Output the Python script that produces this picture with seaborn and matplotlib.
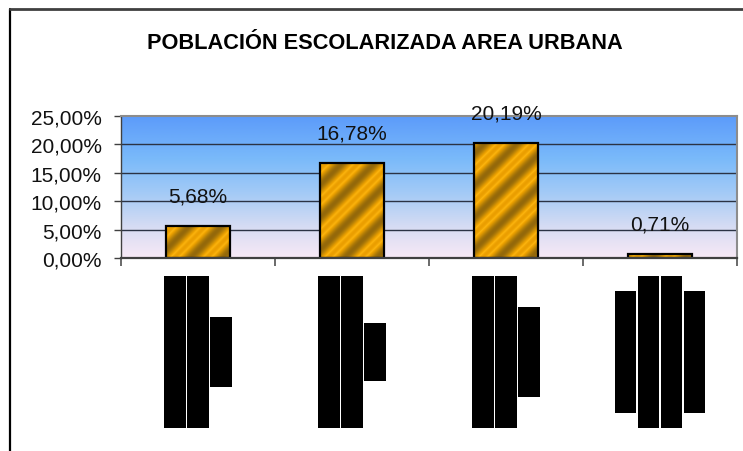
import numpy as np
import pandas as pd
import matplotlib
matplotlib.use("Agg")
import matplotlib.pyplot as plt
import seaborn as sns
from matplotlib.colors import LinearSegmentedColormap
from matplotlib.lines import Line2D
from matplotlib.ticker import FuncFormatter

# ---- data ----
categories = ["Transición", "Primaria", "Secundaria", "Media"]
values = [0.0568, 0.1678, 0.2019, 0.0071]
value_labels = ["5,68%", "16,78%", "20,19%", "0,71%"]
category_lines = [
    ["Transición 5 a", "6 años de edad", "urbana"],
    ["Nivel primaria", "de 7 a 11 años", "zonas"],
    ["Secundaria 12-", "15 años urbana", "cabecera"],
    ["Nivel media", "16 a 17 años y", "más en la zona", "área urbana"],
]
title = "POBLACIÓN ESCOLARIZADA AREA URBANA"
y_ticks = [0.0, 0.05, 0.10, 0.15, 0.20, 0.25]

df = pd.DataFrame({"cat": categories, "val": values})

sns.set_theme(style="white")
plt.rcParams["font.family"] = ["Liberation Sans", "DejaVu Sans"]

W, H = 743, 452
fig = plt.figure(figsize=(W / 100, H / 100), dpi=100)
fig.patch.set_facecolor("white")
ax = fig.add_axes([121 / W, 1 - 259 / H, (737 - 121) / W, (259 - 117) / H])
ax.patch.set_facecolor("none")

# background gradient
bg = LinearSegmentedColormap.from_list(
    "bg",
    [(0.0, (248 / 255, 233 / 255, 246 / 255)),
     (0.22, (214 / 255, 220 / 255, 243 / 255)),
     (0.45, (165 / 255, 203 / 255, 246 / 255)),
     (0.7, (122 / 255, 186 / 255, 250 / 255)),
     (1.0, (92 / 255, 155 / 255, 250 / 255))])
grad = np.linspace(0, 1, 256).reshape(-1, 1)
ax.imshow(grad, extent=(0, 1, 0, 1), transform=ax.transAxes, origin="lower",
          aspect="auto", cmap=bg, zorder=0, interpolation="bilinear")

for v in y_ticks[1:-1]:
    ax.axhline(v, color="#2b3344", lw=1.0, zorder=1)

sns.barplot(data=df, x="cat", y="val", color="#E8A000", edgecolor="black",
            linewidth=1.6, width=0.41, ax=ax, zorder=3)

ax.set_xlim(-0.5, 3.5)
ax.set_ylim(0, 0.25)
fig.canvas.draw()

# golden diagonal stripe fill
gold = LinearSegmentedColormap.from_list(
    "gold",
    [(0.0, (0.58, 0.41, 0.04)), (0.35, (0.76, 0.53, 0.02)),
     (0.7, (0.94, 0.64, 0.0)), (0.85, (0.99, 0.71, 0.06)), (1.0, (0.92, 0.62, 0.0))])
for p in list(ax.patches):
    bb = p.get_window_extent()
    w = max(int(round(bb.width)), 2)
    h = max(int(round(bb.height)), 2)
    xx, yy = np.meshgrid(np.arange(w), np.arange(h))
    period = 32.0
    t = 0.5 + 0.5 * np.sin(2 * np.pi * (xx - yy) / period)
    x0 = p.get_x()
    im = ax.imshow(t, extent=(x0, x0 + p.get_width(), p.get_y(), p.get_y() + p.get_height()),
                   origin="lower", aspect="auto", cmap=gold, zorder=3.5,
                   interpolation="bilinear", vmin=0, vmax=1)
    im.set_clip_path(p)
    p.set_facecolor("none")
    p.set_zorder(4)

ax.set_xlim(-0.5, 3.5)
ax.set_ylim(0, 0.25)
ax.set_aspect("auto")

# value labels
for i, (v, lab) in enumerate(zip(values, value_labels)):
    ax.annotate(lab, xy=(i, v), xytext=(0, 30), textcoords="offset pixels",
                ha="center", va="center", fontsize=15, color="#111111", zorder=7)

# axes styling
ax.set_xlabel("")
ax.set_ylabel("")
ax.set_yticks(y_ticks)
ax.yaxis.set_major_formatter(FuncFormatter(lambda v, _: f"{v*100:.2f}%".replace(".", ",")))
ax.set_xticks([-0.5, 0.5, 1.5, 2.5, 3.5])
ax.set_xticklabels([])
ax.tick_params(axis="y", direction="out", length=5, width=1, color="#404040",
               pad=9, labelsize=15, labelcolor="#111111", left=True)
ax.tick_params(axis="x", direction="out", length=6, width=1.2, color="#505050", bottom=True)
for s in ["top", "right"]:
    ax.spines[s].set_color("#8c8c8c")
    ax.spines[s].set_linewidth(1.5)
ax.spines["left"].set_color("#404040")
ax.spines["left"].set_linewidth(1.0)
ax.spines["bottom"].set_color("#404040")
ax.spines["bottom"].set_linewidth(1.6)
for s in ax.spines.values():
    s.set_zorder(6)

# category labels (rendered as black blocks)
step = 23 / 154
trans = ax.get_xaxis_transform()
yc = (259 - 353) / (259 - 117)
for i, lines in enumerate(category_lines):
    n = len(lines)
    for j, line in enumerate(lines):
        x = i + (j - (n - 1) / 2) * step
        ax.text(x, yc, line, transform=trans, rotation=90, ha="center", va="center",
                fontsize=12.4, family=["Liberation Mono", "DejaVu Sans Mono"],
                color="black", clip_on=False,
                bbox=dict(boxstyle="square,pad=0.2", facecolor="black", edgecolor="none"))

# title
fig.text(385 / W, 1 - 49 / H, title, ha="center", va="baseline", fontsize=15.7,
         fontweight="bold", family=["Liberation Sans", "DejaVu Sans"],
         color="black")

# chart border (left and top visible)
fig.add_artist(Line2D([9.5 / W, 9.5 / W], [0, 1 - 9.5 / H], color="black", lw=1.6,
                      transform=fig.transFigure))
fig.add_artist(Line2D([9.5 / W, 1], [1 - 9.5 / H, 1 - 9.5 / H], color="#404040", lw=2.0,
                      transform=fig.transFigure))

fig.savefig("out.png", dpi=100)
